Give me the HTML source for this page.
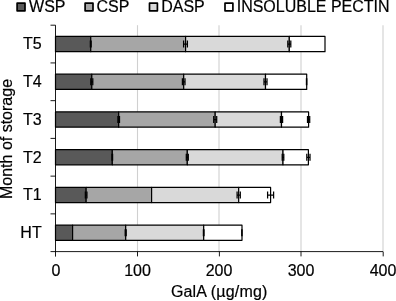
<!DOCTYPE html>
<html><head><meta charset="utf-8"><title>chart</title>
<style>
html,body{margin:0;padding:0;background:#fff;}
body{width:396px;height:301px;overflow:hidden;}
svg{display:block;}
text{font-family:"Liberation Sans",Arial,sans-serif;font-size:16px;fill:#000;stroke:#000;stroke-width:0.2px;}
</style></head><body>
<svg width="396" height="301" viewBox="0 0 396 301">
<rect width="396" height="301" fill="#fff"/>

<line x1="137.50" y1="25.2" x2="137.50" y2="251.6" stroke="#d0d0d0" stroke-width="1.1"/>
<line x1="219.00" y1="25.2" x2="219.00" y2="251.6" stroke="#d0d0d0" stroke-width="1.1"/>
<line x1="301.00" y1="25.2" x2="301.00" y2="251.6" stroke="#d0d0d0" stroke-width="1.1"/>
<line x1="383.00" y1="25.2" x2="383.00" y2="251.6" stroke="#d0d0d0" stroke-width="1.1"/>
<rect x="55.50" y="36.47" width="35.25" height="15.2" fill="#595959" stroke="#000" stroke-width="1.2" stroke-linejoin="round"/>
<rect x="90.75" y="36.47" width="94.85" height="15.2" fill="#a6a6a6" stroke="#000" stroke-width="1.2" stroke-linejoin="round"/>
<rect x="185.60" y="36.47" width="103.70" height="15.2" fill="#d9d9d9" stroke="#000" stroke-width="1.2" stroke-linejoin="round"/>
<rect x="289.30" y="36.47" width="35.70" height="15.2" fill="#ffffff" stroke="#000" stroke-width="1.2" stroke-linejoin="round"/>
<path d="M90.35 44.07H91.15M90.35 40.52v7.1M91.15 40.52v7.1" stroke="#000" stroke-width="1.25" fill="none"/>
<path d="M183.60 44.07H187.40M183.60 40.52v7.1M187.40 40.52v7.1" stroke="#000" stroke-width="1.25" fill="none"/>
<path d="M287.80 44.07H290.80M287.80 40.52v7.1M290.80 40.52v7.1" stroke="#000" stroke-width="1.25" fill="none"/>
<rect x="55.50" y="74.20" width="36.30" height="15.2" fill="#595959" stroke="#000" stroke-width="1.2" stroke-linejoin="round"/>
<rect x="91.80" y="74.20" width="91.90" height="15.2" fill="#a6a6a6" stroke="#000" stroke-width="1.2" stroke-linejoin="round"/>
<rect x="183.70" y="74.20" width="81.80" height="15.2" fill="#d9d9d9" stroke="#000" stroke-width="1.2" stroke-linejoin="round"/>
<rect x="265.50" y="74.20" width="41.20" height="15.2" fill="#ffffff" stroke="#000" stroke-width="1.2" stroke-linejoin="round"/>
<path d="M90.80 81.80H92.80M90.80 78.25v7.1M92.80 78.25v7.1" stroke="#000" stroke-width="1.25" fill="none"/>
<path d="M182.40 81.80H185.00M182.40 78.25v7.1M185.00 78.25v7.1" stroke="#000" stroke-width="1.25" fill="none"/>
<path d="M264.00 81.80H267.00M264.00 78.25v7.1M267.00 78.25v7.1" stroke="#000" stroke-width="1.25" fill="none"/>
<path d="M306.45 81.80H306.75M306.45 78.25v7.1M306.75 78.25v7.1" stroke="#000" stroke-width="1.25" fill="none"/>
<rect x="55.50" y="111.93" width="63.20" height="15.2" fill="#595959" stroke="#000" stroke-width="1.2" stroke-linejoin="round"/>
<rect x="118.70" y="111.93" width="96.50" height="15.2" fill="#a6a6a6" stroke="#000" stroke-width="1.2" stroke-linejoin="round"/>
<rect x="215.20" y="111.93" width="66.30" height="15.2" fill="#d9d9d9" stroke="#000" stroke-width="1.2" stroke-linejoin="round"/>
<rect x="281.50" y="111.93" width="27.10" height="15.2" fill="#ffffff" stroke="#000" stroke-width="1.2" stroke-linejoin="round"/>
<path d="M117.90 119.53H119.50M117.90 115.98v7.1M119.50 115.98v7.1" stroke="#000" stroke-width="1.25" fill="none"/>
<path d="M213.70 119.53H216.70M213.70 115.98v7.1M216.70 115.98v7.1" stroke="#000" stroke-width="1.25" fill="none"/>
<path d="M280.40 119.53H282.60M280.40 115.98v7.1M282.60 115.98v7.1" stroke="#000" stroke-width="1.25" fill="none"/>
<path d="M307.50 119.53H309.70M307.50 115.98v7.1M309.70 115.98v7.1" stroke="#000" stroke-width="1.25" fill="none"/>
<rect x="55.50" y="149.67" width="56.80" height="15.2" fill="#595959" stroke="#000" stroke-width="1.2" stroke-linejoin="round"/>
<rect x="112.30" y="149.67" width="75.00" height="15.2" fill="#a6a6a6" stroke="#000" stroke-width="1.2" stroke-linejoin="round"/>
<rect x="187.30" y="149.67" width="95.70" height="15.2" fill="#d9d9d9" stroke="#000" stroke-width="1.2" stroke-linejoin="round"/>
<rect x="283.00" y="149.67" width="25.40" height="15.2" fill="#ffffff" stroke="#000" stroke-width="1.2" stroke-linejoin="round"/>
<path d="M112.00 157.27H112.60M112.00 153.72v7.1M112.60 153.72v7.1" stroke="#000" stroke-width="1.25" fill="none"/>
<path d="M186.30 157.27H188.30M186.30 153.72v7.1M188.30 153.72v7.1" stroke="#000" stroke-width="1.25" fill="none"/>
<path d="M282.20 157.27H283.80M282.20 153.72v7.1M283.80 153.72v7.1" stroke="#000" stroke-width="1.25" fill="none"/>
<path d="M306.80 157.27H310.00M306.80 153.72v7.1M310.00 153.72v7.1" stroke="#000" stroke-width="1.25" fill="none"/>
<rect x="55.50" y="187.40" width="30.65" height="15.2" fill="#595959" stroke="#000" stroke-width="1.2" stroke-linejoin="round"/>
<rect x="86.15" y="187.40" width="65.45" height="15.2" fill="#a6a6a6" stroke="#000" stroke-width="1.2" stroke-linejoin="round"/>
<rect x="151.60" y="187.40" width="87.10" height="15.2" fill="#d9d9d9" stroke="#000" stroke-width="1.2" stroke-linejoin="round"/>
<rect x="238.70" y="187.40" width="31.90" height="15.2" fill="#ffffff" stroke="#000" stroke-width="1.2" stroke-linejoin="round"/>
<path d="M85.35 195.00H86.95M85.35 191.45v7.1M86.95 191.45v7.1" stroke="#000" stroke-width="1.25" fill="none"/>
<path d="M237.10 195.00H240.30M237.10 191.45v7.1M240.30 191.45v7.1" stroke="#000" stroke-width="1.25" fill="none"/>
<path d="M267.60 195.00H273.60M267.60 191.45v7.1M273.60 191.45v7.1" stroke="#000" stroke-width="1.25" fill="none"/>
<rect x="55.50" y="225.13" width="17.10" height="15.2" fill="#595959" stroke="#000" stroke-width="1.2" stroke-linejoin="round"/>
<rect x="72.60" y="225.13" width="53.10" height="15.2" fill="#a6a6a6" stroke="#000" stroke-width="1.2" stroke-linejoin="round"/>
<rect x="125.70" y="225.13" width="78.00" height="15.2" fill="#d9d9d9" stroke="#000" stroke-width="1.2" stroke-linejoin="round"/>
<rect x="203.70" y="225.13" width="38.30" height="15.2" fill="#ffffff" stroke="#000" stroke-width="1.2" stroke-linejoin="round"/>
<path d="M125.20 232.73H126.20M125.20 229.18v7.1M126.20 229.18v7.1" stroke="#000" stroke-width="1.25" fill="none"/>
<path d="M203.40 232.73H204.00M203.40 229.18v7.1M204.00 229.18v7.1" stroke="#000" stroke-width="1.25" fill="none"/>
<path d="M241.75 232.73H242.05M241.75 229.18v7.1M242.05 229.18v7.1" stroke="#000" stroke-width="1.25" fill="none"/>
<path d="M55.5 25.2V256.6" stroke="#000" stroke-width="0.9" fill="none"/>
<path d="M50.5 251.6H383.0" stroke="#000" stroke-width="0.9" fill="none"/>
<line x1="50.5" y1="25.20" x2="55.5" y2="25.20" stroke="#000" stroke-width="0.9"/>
<line x1="50.5" y1="62.93" x2="55.5" y2="62.93" stroke="#000" stroke-width="0.9"/>
<line x1="50.5" y1="100.67" x2="55.5" y2="100.67" stroke="#000" stroke-width="0.9"/>
<line x1="50.5" y1="138.40" x2="55.5" y2="138.40" stroke="#000" stroke-width="0.9"/>
<line x1="50.5" y1="176.13" x2="55.5" y2="176.13" stroke="#000" stroke-width="0.9"/>
<line x1="50.5" y1="213.87" x2="55.5" y2="213.87" stroke="#000" stroke-width="0.9"/>
<line x1="137.50" y1="251.6" x2="137.50" y2="256.4" stroke="#000" stroke-width="0.9"/>
<line x1="219.40" y1="251.6" x2="219.40" y2="256.4" stroke="#000" stroke-width="0.9"/>
<line x1="301.00" y1="251.6" x2="301.00" y2="256.4" stroke="#000" stroke-width="0.9"/>
<line x1="383.20" y1="251.6" x2="383.20" y2="256.4" stroke="#000" stroke-width="0.9"/>
<text x="56.00" y="276" text-anchor="middle">0</text>
<text x="137.50" y="276" text-anchor="middle">100</text>
<text x="219.00" y="276" text-anchor="middle">200</text>
<text x="301.00" y="276" text-anchor="middle">300</text>
<text x="383.00" y="276" text-anchor="middle">400</text>
<text x="41.7" y="49.37" text-anchor="end">T5</text>
<text x="41.7" y="87.10" text-anchor="end">T4</text>
<text x="41.7" y="124.83" text-anchor="end">T3</text>
<text x="41.7" y="162.57" text-anchor="end">T2</text>
<text x="41.7" y="200.30" text-anchor="end">T1</text>
<text x="41.7" y="238.03" text-anchor="end">HT</text>
<text x="219.2" y="297.4" text-anchor="middle" letter-spacing="0.17">GalA (µg/mg)</text>
<text transform="translate(12.3 139.0) rotate(-90)" text-anchor="middle">Month of storage</text>
<rect x="17.10" y="3.2" width="7.9" height="7.6" fill="#595959" stroke="#000" stroke-width="1.7" stroke-linejoin="round"/>
<text x="29.1" y="11.9">WSP</text>
<rect x="85.10" y="3.2" width="7.9" height="7.6" fill="#a6a6a6" stroke="#000" stroke-width="1.7" stroke-linejoin="round"/>
<text x="96.5" y="11.9">CSP</text>
<rect x="149.50" y="3.2" width="7.9" height="7.6" fill="#d9d9d9" stroke="#000" stroke-width="1.7" stroke-linejoin="round"/>
<text x="161.2" y="11.9">DASP</text>
<rect x="225.00" y="3.2" width="7.9" height="7.6" fill="#ffffff" stroke="#000" stroke-width="1.7" stroke-linejoin="round"/>
<text x="236.7" y="11.9">INSOLUBLE PECTIN</text>
</svg></body></html>
